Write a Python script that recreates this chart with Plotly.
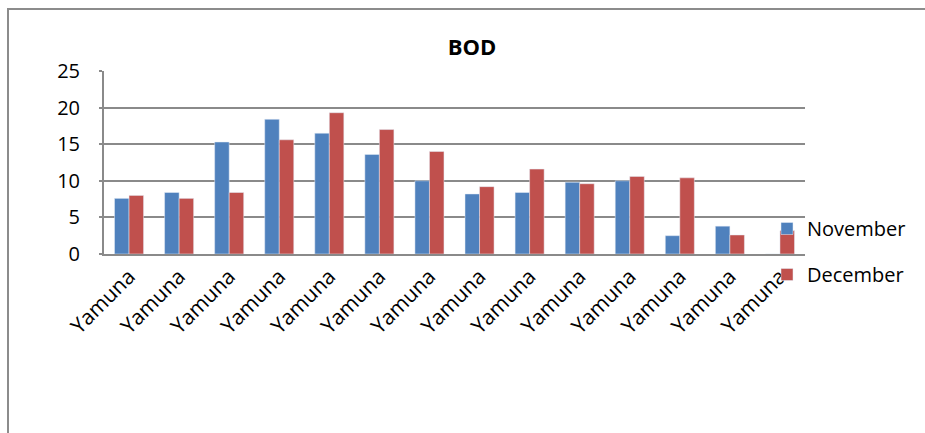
import plotly.graph_objects as go

# BOD readings per sampling point on the Yamuna
categories = ["Yamuna"] * 14
november = [7.6, 8.4, 15.3, 18.4, 16.5, 13.6, 10.0, 8.2, 8.4, 9.8, 10.0, 2.5, 3.8, 0.0]
december = [8.0, 7.6, 8.4, 15.6, 19.3, 17.0, 14.0, 9.2, 11.6, 9.6, 10.6, 10.4, 2.6, 3.2]
y_ticks = [0, 5, 10, 15, 20, 25]

FONT = "Open Sans"
GRID = "#8a8a8a"

x_idx = list(range(len(categories)))

fig = go.Figure()
fig.add_trace(go.Bar(x=x_idx, y=november, name="November", marker_color="#4F81BD",
                     legendgroup="nov"))
fig.add_trace(go.Bar(x=x_idx, y=december, name="December", marker_color="#C0504D",
                     legendgroup="dec"))

W, H = 925, 433
L, R, T, B = 104, 120, 71, 179
pw = W - L - R
ph = H - T - B


def px_x(p):
    return (p - L) / pw


def px_y(p):
    return 1 - (p - T) / ph


# open frame path along the left and top edges of the chart area
frame_path = "M {:.5f},{:.5f} L {:.5f},{:.5f} L {:.5f},{:.5f}".format(
    px_x(8), px_y(H + 20), px_x(8), px_y(9), px_x(W + 20), px_y(9))

fig.update_layout(
    width=W, height=H,
    margin=dict(l=L, r=R, t=T, b=B),
    paper_bgcolor="white", plot_bgcolor="white",
    font=dict(family=FONT, size=20, color="black"),
    barmode="group", bargap=0.42, bargroupgap=0,
    title=dict(text="<b>BOD</b>", x=472 / W, xref="container", xanchor="center",
               y=1 - 47 / H, yref="container", yanchor="middle",
               font=dict(family=FONT, size=22, color="black")),
    xaxis=dict(tickmode="array", tickvals=x_idx, ticktext=categories,
               tickangle=-45, range=[-0.5, len(categories) - 0.5],
               showline=True, linecolor=GRID, linewidth=2, showgrid=False,
               ticks="", tickfont=dict(family=FONT, size=21)),
    yaxis=dict(range=[0, 25], tickvals=y_ticks, showgrid=True, gridcolor=GRID,
               gridwidth=2, showline=True, linecolor=GRID, linewidth=2,
               ticks="outside", ticklen=3, tickcolor=GRID, tickwidth=2,
               zeroline=False, ticklabelstandoff=15,
               tickfont=dict(family=FONT, size=20)),
    legend=dict(x=px_x(767), xanchor="left", y=px_y(209), yanchor="top",
                tracegroupgap=17, bgcolor="rgba(0,0,0,0)",
                font=dict(family=FONT, size=20)),
    shapes=[dict(type="path", xref="paper", yref="paper", path=frame_path,
                 line=dict(color="#8c8c8c", width=2),
                 fillcolor="rgba(0,0,0,0)", layer="below")],
)

fig.write_html("out.html", config={"displayModeBar": False})
